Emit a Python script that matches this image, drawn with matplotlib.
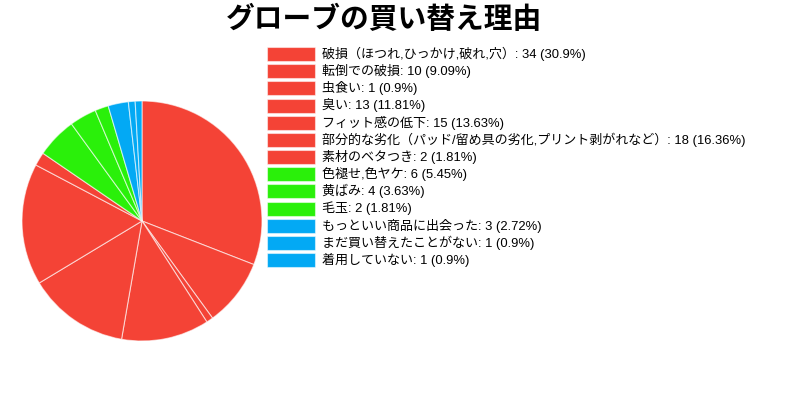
import math
import matplotlib
matplotlib.use("Agg")
import matplotlib.pyplot as plt
from matplotlib.patches import Rectangle

plt.rcParams['font.family'] = ['Liberation Sans', 'Noto Sans CJK JP', 'DejaVu Sans']

# データ
title = "グローブの買い替え理由"
labels = [
    "破損（ほつれ,ひっかけ,破れ,穴）",
    "転倒での破損",
    "虫食い",
    "臭い",
    "フィット感の低下",
    "部分的な劣化（パッド/留め具の劣化,プリント剥がれなど）",
    "素材のベタつき",
    "色褪せ,色ヤケ",
    "黄ばみ",
    "毛玉",
    "もっといい商品に出会った",
    "まだ買い替えたことがない",
    "着用していない",
]
counts = [34, 10, 1, 13, 15, 18, 2, 6, 4, 2, 3, 1, 1]
red, green, blue = "#F44336", "#2AF00A", "#03A9F4"
colors = [red] * 7 + [green] * 3 + [blue] * 3

total = sum(counts)


def pct_text(v):
    # 小数点以下2桁で切り捨て
    p = math.floor(round(v / total * 10000, 6)) / 100
    return f"{p:g}"


fig = plt.figure(figsize=(8, 4), dpi=100)

# 円グラフ（中心 x=142, y=221, 半径120 px）
ax = fig.add_axes([22 / 800, (400 - 341) / 400, 240 / 800, 240 / 400])
ax.pie(counts, colors=colors, startangle=90, counterclock=False,
       wedgeprops=dict(edgecolor=(1, 1, 1, 0.6), linewidth=0.8))
ax.set_aspect('equal')
ax.set_xlim(-1, 1)
ax.set_ylim(-1, 1)
ax.axis('off')

fig.text(384 / 800, 1 - 19 / 400, title, ha='center', va='center',
         fontsize=20.7, fontweight='bold',
         family=['Noto Sans CJK JP', 'DejaVu Sans'])

# 凡例
y0 = 54
step = 17.17
for i, (lab, v, c) in enumerate(zip(labels, counts, colors)):
    yc = y0 + i * step
    fig.patches.append(Rectangle((267 / 800, 1 - (yc + 7) / 400), 48 / 800, 14 / 400,
                                 transform=fig.transFigure, facecolor=c,
                                 edgecolor=(1, 1, 1, 0.5), linewidth=0.8))
    fig.text(322 / 800, 1 - yc / 400, f"{lab}: {v} ({pct_text(v)}%)",
             ha='left', va='center', fontsize=9.4)

fig.savefig("out.png", dpi=100)
